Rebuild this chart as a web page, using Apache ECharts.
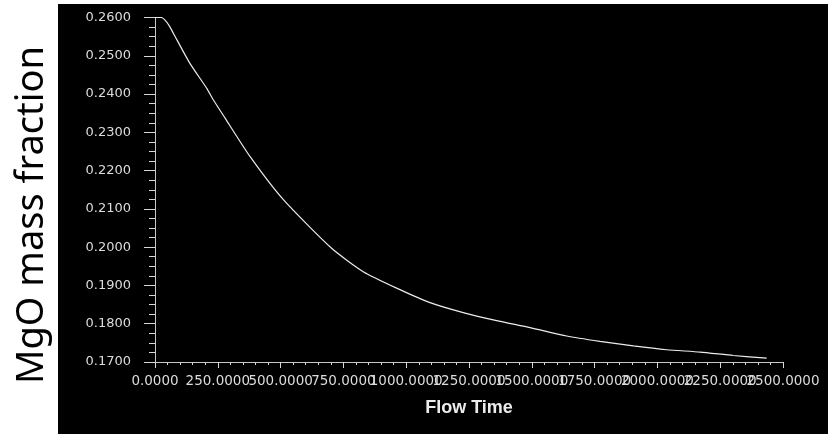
<!DOCTYPE html>
<html>
<head>
<meta charset="utf-8">
<script src="https://cdn.jsdelivr.net/npm/echarts@6/dist/echarts.min.js"></script>
<style>
html,body{margin:0;padding:0;background:#fff;}
#c{width:828px;height:434px;}
</style>
</head>
<body>
<div id="c"></div>
<script>
const flowTime = [0, 25, 40, 57, 73, 139, 206, 232, 279, 378, 511, 703, 829, 962, 1095, 1227, 1360, 1493, 1639, 1771, 1904, 2037, 2170, 2302, 2435];
const mgoFraction = [0.2600, 0.2600, 0.2593, 0.2578, 0.2559, 0.2480, 0.2415, 0.2385, 0.2337, 0.2237, 0.2124, 0.1997, 0.1936, 0.1893, 0.1855, 0.1829, 0.1808, 0.1790, 0.1768, 0.1754, 0.1742, 0.1732, 0.1726, 0.1717, 0.1710];
const xAxisTitle = 'Flow Time';
const yAxisTitle = 'MgO mass fraction';
const xMax = 2500;

const chart = echarts.init(document.getElementById('c'));
const tickColor = '#d8d8d8';
const labelStyle = { color: '#dcdcdc', fontFamily: 'DejaVu Sans', fontSize: 13.5, margin: 12 };
chart.setOption({
  backgroundColor: '#ffffff',
  animation: false,
  graphic: [
    { type: 'rect', shape: { x: 58, y: 4, width: 770, height: 430 }, style: { fill: '#000000' }, z: -10 },
    { type: 'text', x: 32, y: 215, rotation: Math.PI / 2,
      style: { text: yAxisTitle, fill: '#000', font: '38px "Noto Sans"', align: 'center', verticalAlign: 'middle' } }
  ],
  grid: { left: 155, right: 45, top: 17.5, bottom: 72, containLabel: false },
  xAxis: [{
    type: 'value', min: 0, max: xMax, interval: 250, position: 'bottom',
    name: xAxisTitle, nameLocation: 'middle', nameGap: 37,
    nameTextStyle: { color: '#ececec', fontFamily: 'Liberation Sans', fontWeight: 'bold', fontSize: 18 },
    axisLine: { show: true, lineStyle: { color: '#c8c8c8', width: 1 } },
    axisTick: { show: true, inside: false, length: 6, lineStyle: { color: tickColor } },
    minorTick: { show: true, splitNumber: 5, length: 3, lineStyle: { color: tickColor } },
    splitLine: { show: false },
    axisLabel: Object.assign({ hideOverlap: false, interval: 0,
      formatter: v => v.toFixed(4) }, labelStyle)
  }, {
    type: 'value', min: 0, max: xMax, interval: 250, position: 'bottom', offset: 0,
    axisLine: { show: false }, axisTick: { show: false }, splitLine: { show: false },
    axisLabel: Object.assign({ hideOverlap: false, interval: 0, showMaxLabel: true,
      formatter: v => (v === xMax ? v.toFixed(4) : '') }, labelStyle)
  }],
  yAxis: {
    type: 'value', min: 0.17, max: 0.26, interval: 0.01,
    axisLine: { show: true, lineStyle: { color: '#c8c8c8', width: 1 } },
    axisTick: { show: true, inside: false, length: 11, lineStyle: { color: tickColor } },
    minorTick: { show: true, splitNumber: 4, length: 6, lineStyle: { color: tickColor } },
    splitLine: { show: false },
    axisLabel: { color: '#dcdcdc', fontFamily: 'DejaVu Sans', fontSize: 13, margin: 24,
      hideOverlap: false, formatter: v => v.toFixed(4) }
  },
  series: [{
    type: 'line',
    xAxisIndex: 0,
    data: flowTime.map((t, i) => [t, mgoFraction[i]]),
    showSymbol: false,
    smooth: 0.2,
    lineStyle: { color: '#ececec', width: 1.2 }
  }]
});
</script>
</body>
</html>
